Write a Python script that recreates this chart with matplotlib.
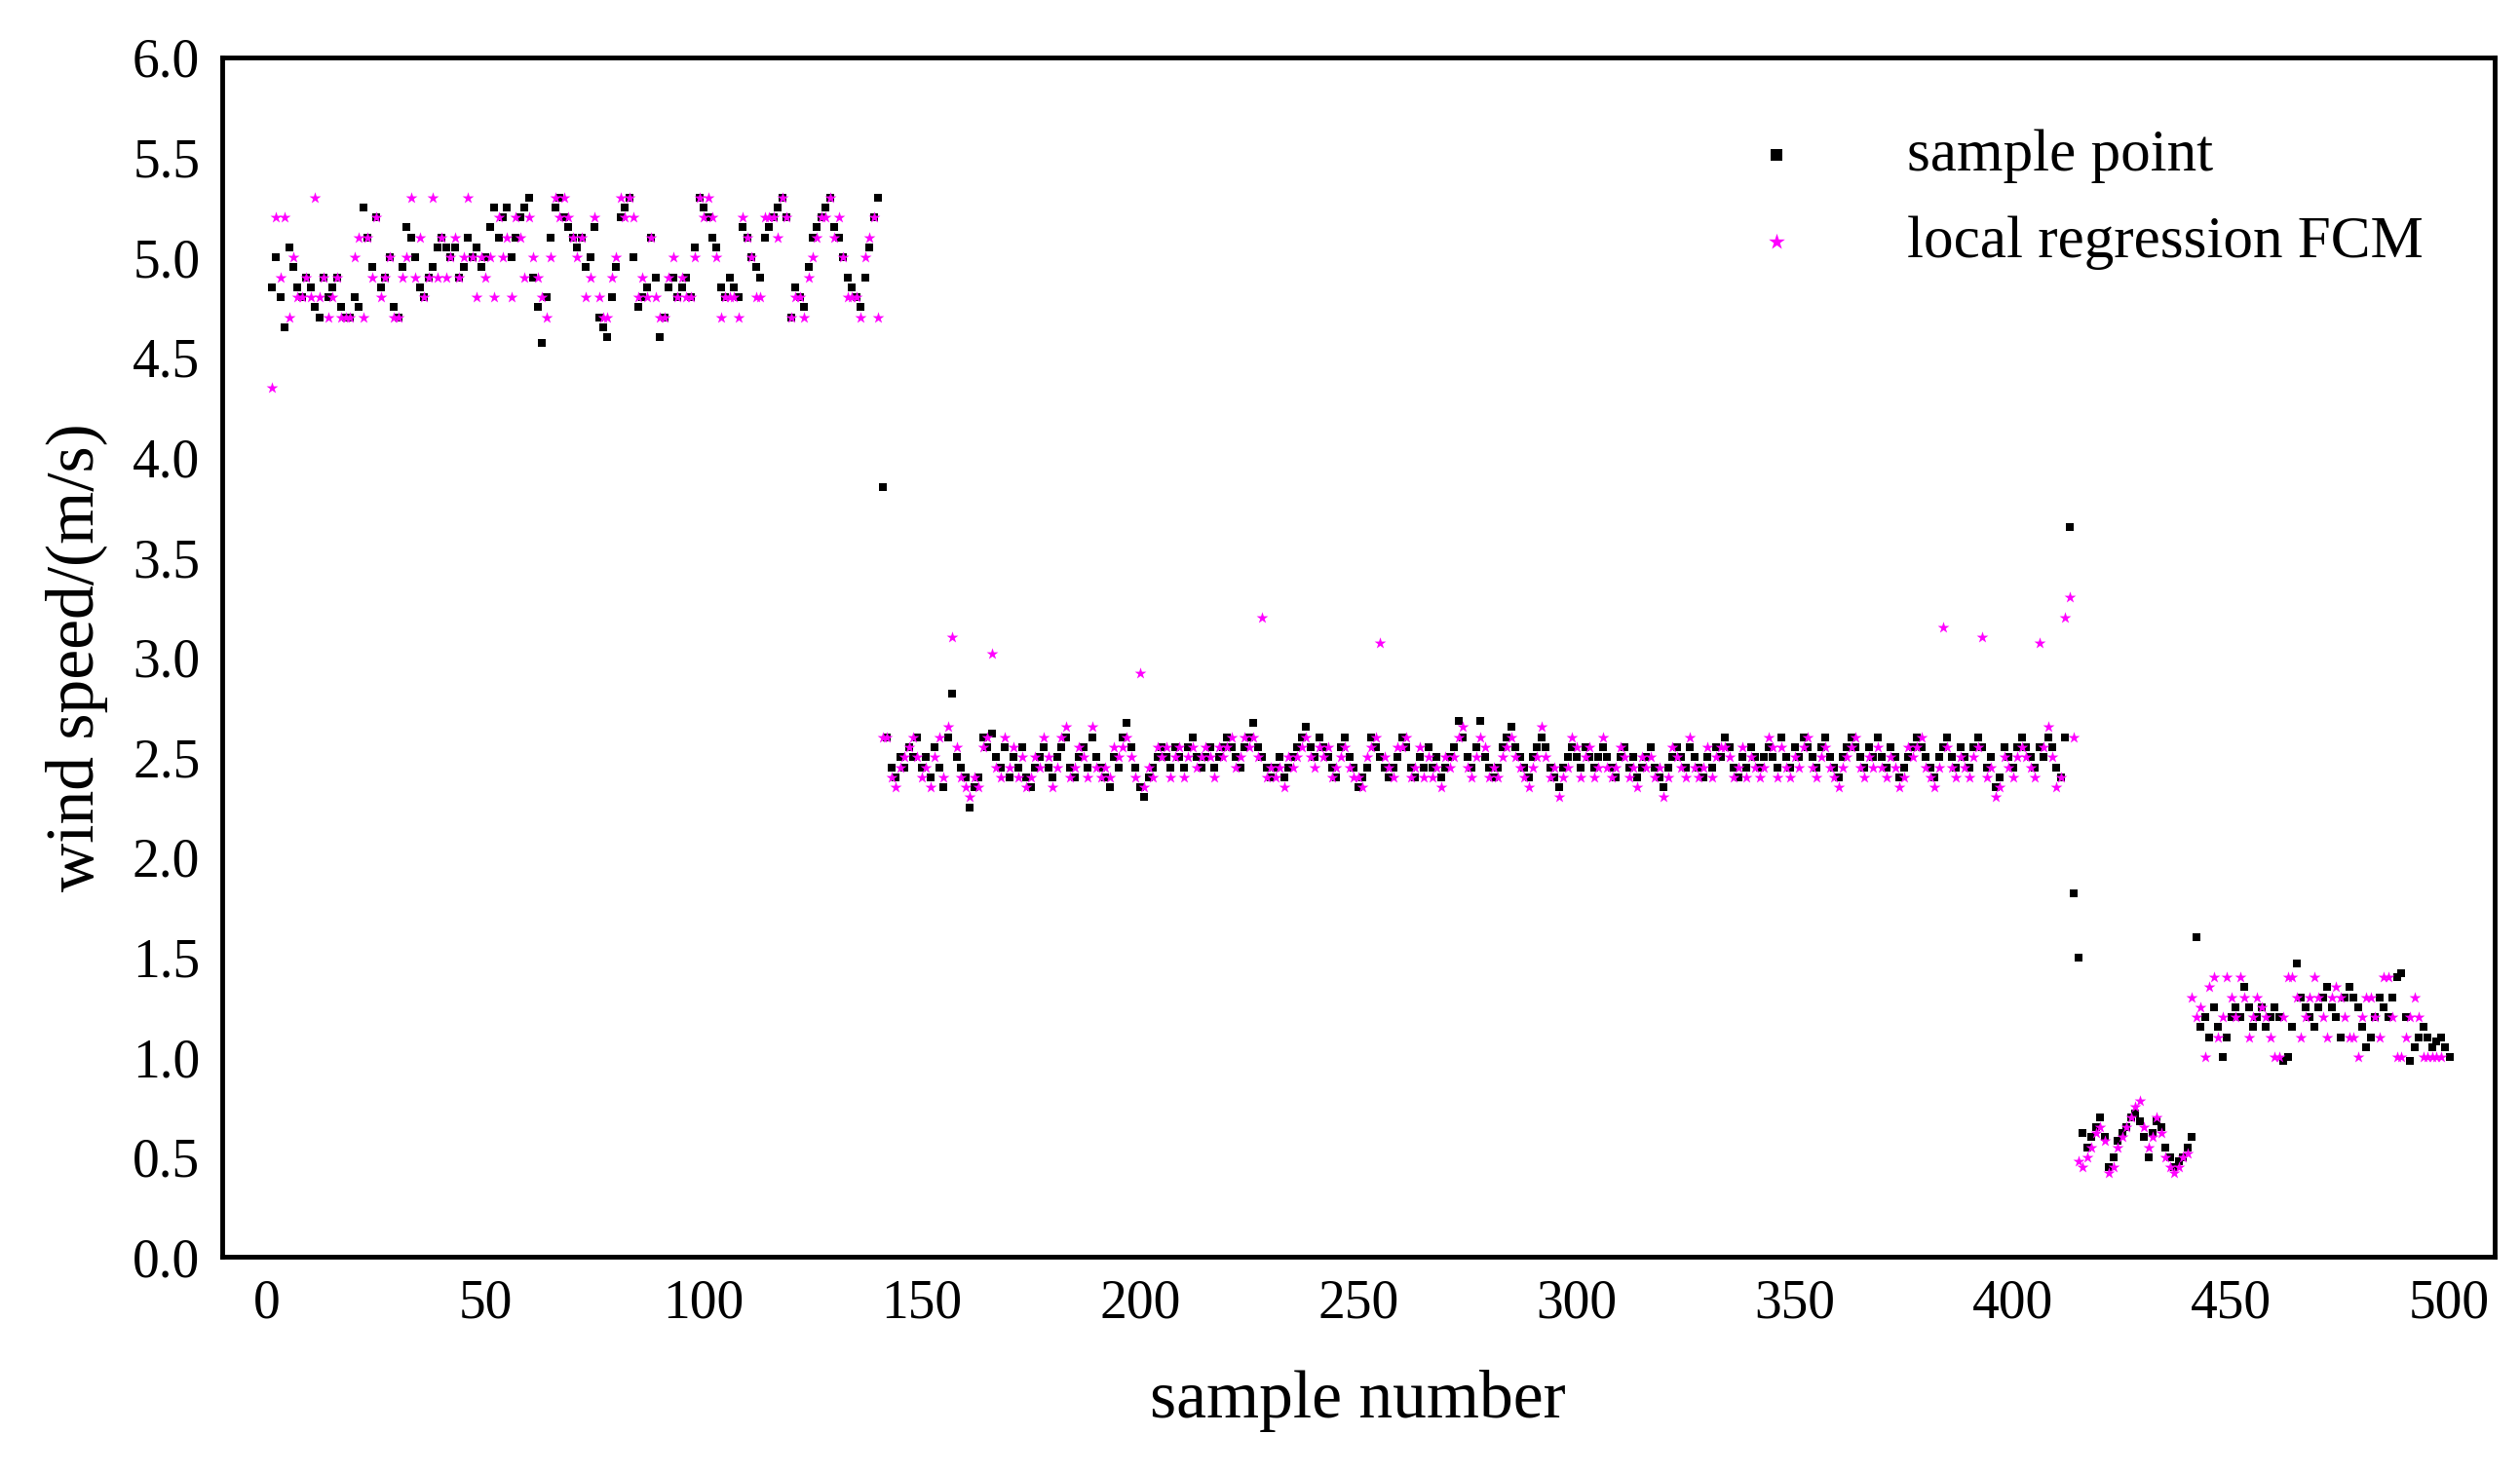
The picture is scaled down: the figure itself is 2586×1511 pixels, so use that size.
import numpy as np
import matplotlib.pyplot as plt

plt.rcParams['font.family'] = ['Liberation Serif', 'DejaVu Serif']

# sample point values, by segment
black_a = [4.85,5.0,4.8,4.65,5.05,4.95,4.85,4.8,4.9,4.85,4.75,4.7,4.9,4.8,4.85,4.9,4.75,4.7,4.7,4.8,
           4.75,5.25,5.1,4.95,5.2,4.85,4.9,5.0,4.75,4.7,4.95,5.15,5.1,5.0,4.85,4.8,4.9,4.95,5.05,5.1,
           5.05,5.0,5.05,4.9,4.95,5.1,5.0,5.05,4.95,5.0,5.15,5.25,5.1,5.2,5.25,5.0,5.1,5.2,5.25,5.3,
           4.9,4.75,4.57,4.8,5.1,5.25,5.3,5.2,5.15,5.1,5.05,5.1,4.95,5.0,5.15,4.7,4.65,4.6,4.8,4.95,
           5.2,5.25,5.3,5.0,4.75,4.8,4.85,5.1,4.9,4.6,4.7,4.85,4.9,4.8,4.85,4.9,4.8,5.05,5.3,5.25,
           5.2,5.1,5.05,4.85,4.8,4.9,4.85,4.8,5.15,5.1,5.0,4.95,4.9,5.1,5.15,5.2,5.25,5.3,5.2,4.7,
           4.85,4.8,4.75,4.95,5.1,5.15,5.2,5.25,5.3,5.15,5.1,5.0,4.9,4.85,4.8,4.75,4.9,5.05,5.2,5.3]
black_b = [3.85,
           2.6,2.45,2.4,2.5,2.45,2.55,2.5,2.6,2.45,2.5,2.4,2.55,2.45,2.35,2.6,2.82,2.5,2.45,2.4,2.25,
           2.35,2.4,2.6,2.55,2.62,2.5,2.45,2.55,2.4,2.5,2.45,2.55,2.4,2.35,2.45,2.5,2.55,2.45,2.4,2.5,
           2.55,2.6,2.45,2.4,2.5,2.55,2.45,2.6,2.5,2.45,2.4,2.35,2.5,2.45,2.6,2.67,2.55,2.45,2.35,2.3,
           2.4,2.45,2.5,2.55,2.5,2.45,2.55,2.5,2.45,2.55,2.6,2.5,2.45,2.5,2.55,2.45,2.5,2.55,2.6,2.55,
           2.5,2.45,2.55,2.6,2.67,2.55,2.5,2.45,2.4,2.45,2.5,2.4,2.45,2.5,2.55,2.6,2.65,2.55,2.5,2.6,
           2.55,2.5,2.45,2.4,2.55,2.6,2.5,2.45,2.35,2.4,2.45,2.6,2.55,2.5,2.45,2.4,2.45,2.5,2.6,2.55,
           2.45,2.4,2.5,2.45,2.55,2.45,2.5,2.4,2.45,2.5,2.55,2.68,2.6,2.5,2.45,2.55,2.68,2.5,2.45,2.4,
           2.45,2.55,2.6,2.65,2.55,2.5,2.45,2.4,2.5,2.55,2.6,2.55,2.45,2.4,2.35,2.45,2.5,2.55,2.5,2.45,
           2.55,2.5,2.45,2.5,2.55,2.5,2.45,2.4,2.5,2.55,2.45,2.5,2.4,2.45,2.5,2.55,2.45,2.4,2.35,2.45,
           2.5,2.55,2.5,2.45,2.55,2.5,2.45,2.4,2.5,2.45,2.55,2.5,2.6,2.55,2.45,2.4,2.5,2.45,2.55,2.5,
           2.45,2.5,2.55,2.5,2.45,2.6,2.5,2.45,2.55,2.5,2.6,2.55,2.5,2.45,2.55,2.6,2.5,2.45,2.4,2.5,
           2.55,2.6,2.55,2.5,2.45,2.55,2.5,2.6,2.5,2.45,2.55,2.5,2.4,2.45,2.5,2.55,2.6,2.55,2.5,2.45,
           2.4,2.5,2.55,2.6,2.5,2.45,2.55,2.5,2.45,2.55,2.6,2.55,2.45,2.5,2.35,2.4,2.55,2.5,2.45,2.55,
           2.6,2.55,2.5,2.45,2.55,2.5,2.6,2.55,2.45,2.4,2.6]
black_c = [3.65,1.82,1.5,
           0.62,0.55,0.6,0.65,0.7,0.6,0.45,0.5,0.58,0.62,0.65,0.7,0.72,0.68,0.6,0.5,0.62,0.68,0.65,
           0.55,0.5,0.45,0.48,0.5,0.55,0.6]
black_d = [1.6,
           1.15,1.2,1.1,1.25,1.15,1.0,1.1,1.2,1.25,1.2,1.35,1.25,1.15,1.2,1.25,1.15,1.2,1.25,1.2,0.98,
           1.0,1.15,1.47,1.3,1.25,1.2,1.15,1.25,1.3,1.35,1.25,1.2,1.1,1.3,1.35,1.3,1.25,1.15,1.05,1.1,
           1.2,1.3,1.25,1.2,1.3,1.4,1.42,1.2,0.98,1.05,1.1,1.15,1.1,1.05,1.08,1.1,1.05,1.0]

# local regression FCM values, by segment
mag_a = [4.35,5.2,4.9,5.2,4.7,5.0,4.8,4.8,4.9,4.8,5.3,4.8,4.9,4.7,4.8,4.9,4.7,4.7,4.7,5.0,
         5.1,4.7,5.1,4.9,5.2,4.8,4.9,5.0,4.7,4.7,4.9,5.0,5.3,4.9,5.1,4.8,4.9,5.3,4.9,5.1,
         4.9,5.0,5.1,4.9,5.0,5.3,5.0,4.8,5.0,4.9,5.0,4.8,5.2,5.0,5.1,4.8,5.2,5.1,4.9,5.2,
         5.0,4.9,4.8,4.7,5.0,5.3,5.2,5.3,5.2,5.1,5.0,5.1,4.8,4.9,5.2,4.8,4.7,4.7,4.9,5.0,
         5.3,5.2,5.3,5.2,4.8,4.9,4.8,5.1,4.8,4.7,4.7,4.9,5.0,4.8,4.9,4.8,4.8,5.0,5.3,5.2,
         5.3,5.2,5.0,4.7,4.8,4.8,4.8,4.7,5.2,5.1,5.0,4.8,4.8,5.2,5.2,5.2,5.1,5.3,5.2,4.7,
         4.8,4.8,4.7,4.9,5.0,5.1,5.2,5.2,5.3,5.1,5.2,5.0,4.8,4.8,4.8,4.7,5.0,5.1,5.2,4.7]
mag_b = [2.6,
         2.6,2.4,2.35,2.45,2.5,2.55,2.6,2.5,2.4,2.45,2.35,2.5,2.6,2.4,2.65,3.1,2.55,2.4,2.35,2.3,
         2.4,2.35,2.55,2.6,3.02,2.45,2.4,2.6,2.45,2.55,2.4,2.5,2.35,2.4,2.5,2.45,2.6,2.5,2.35,2.45,
         2.6,2.65,2.4,2.45,2.55,2.5,2.4,2.65,2.45,2.4,2.45,2.4,2.55,2.5,2.55,2.6,2.5,2.4,2.92,2.35,
         2.45,2.4,2.55,2.5,2.55,2.4,2.5,2.55,2.4,2.5,2.55,2.45,2.5,2.55,2.5,2.4,2.55,2.5,2.55,2.6,
         2.45,2.5,2.6,2.55,2.6,2.5,3.2,2.4,2.45,2.4,2.45,2.35,2.5,2.45,2.5,2.55,2.6,2.5,2.45,2.55,
         2.5,2.55,2.4,2.45,2.5,2.55,2.45,2.4,2.4,2.35,2.5,2.55,2.6,3.07,2.5,2.45,2.4,2.55,2.55,2.6,
         2.4,2.45,2.55,2.4,2.5,2.4,2.45,2.35,2.5,2.45,2.5,2.6,2.65,2.45,2.4,2.5,2.6,2.55,2.4,2.45,
         2.4,2.5,2.55,2.6,2.5,2.45,2.4,2.35,2.45,2.5,2.65,2.5,2.4,2.45,2.3,2.4,2.45,2.6,2.55,2.4,
         2.5,2.55,2.4,2.45,2.6,2.45,2.4,2.45,2.55,2.5,2.4,2.45,2.35,2.5,2.45,2.5,2.4,2.45,2.3,2.4,
         2.55,2.5,2.45,2.4,2.6,2.45,2.4,2.45,2.55,2.4,2.5,2.55,2.55,2.5,2.4,2.45,2.55,2.4,2.5,2.45,
         2.4,2.45,2.6,2.55,2.4,2.55,2.45,2.4,2.5,2.45,2.55,2.6,2.45,2.4,2.5,2.55,2.45,2.4,2.35,2.45,
         2.5,2.55,2.6,2.45,2.4,2.5,2.45,2.55,2.45,2.4,2.5,2.45,2.35,2.4,2.55,2.5,2.55,2.6,2.45,2.4,
         2.35,2.45,3.15,2.55,2.45,2.4,2.5,2.45,2.4,2.5,2.55,3.1,2.4,2.45,2.3,2.35,2.5,2.45,2.4,2.5,
         2.55,2.5,2.45,2.4,3.07,2.55,2.65,2.5,2.35,2.4,3.2]
mag_c = [3.3,2.6,0.48,
         0.45,0.5,0.55,0.62,0.65,0.58,0.42,0.45,0.55,0.6,0.65,0.7,0.75,0.78,0.65,0.55,0.6,0.7,0.62,
         0.5,0.45,0.42,0.45,0.5,0.52]
mag_d = [1.3,
         1.2,1.25,1.0,1.35,1.4,1.1,1.2,1.4,1.3,1.2,1.4,1.3,1.1,1.2,1.3,1.25,1.2,1.1,1.0,1.0,
         1.2,1.4,1.4,1.3,1.1,1.2,1.3,1.4,1.3,1.2,1.1,1.3,1.35,1.3,1.2,1.1,1.1,1.0,1.2,1.3,
         1.3,1.2,1.1,1.4,1.4,1.2,1.0,1.0,1.1,1.2,1.3,1.2,1.0,1.0,1.0,1.0,1.0]

black = black_a + black_b + black_c + black_d
mag = mag_a + mag_b + mag_c + mag_d
xb = np.arange(1, len(black) + 1)
xm = np.arange(1, len(mag) + 1)

fig = plt.figure(figsize=(25.86, 15.11), dpi=100)
ax = fig.add_axes([0.088, 0.146, 0.902, 0.815])
ax.scatter(xb, black, marker='s', s=40, color='black', linewidths=0, label='sample point')
ax.scatter(xm, mag, marker='*', s=80, color='#ff00ff', linewidths=0, label='local regression FCM')

ax.set_xlim(-10.4, 510.4)
ax.set_ylim(0, 6)
ax.set_xticks(np.arange(0, 501, 50))
ax.set_yticks(np.arange(0, 6.01, 0.5))
ax.set_yticklabels(['%.1f' % v for v in np.arange(0, 6.01, 0.5)])
ax.tick_params(labelsize=40, length=0, pad=16)
for sp in ax.spines.values():
    sp.set_linewidth(3.5)
ax.set_xlabel('sample number', fontsize=50, labelpad=30)
ax.set_ylabel('wind speed/(m/s)', fontsize=50, labelpad=18)
ax.legend(loc='upper right', frameon=False, fontsize=44, markerscale=1.4,
          handletextpad=1.2, borderaxespad=0.8, labelspacing=0.55)

fig.savefig('out.png')
